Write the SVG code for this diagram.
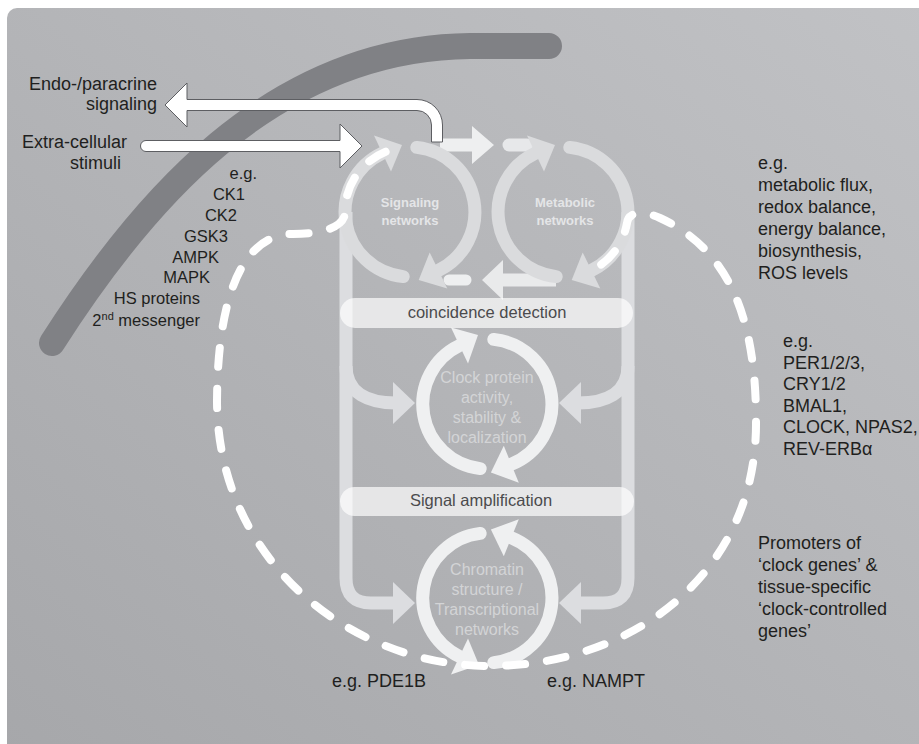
<svg xmlns="http://www.w3.org/2000/svg" width="919" height="744" viewBox="0 0 919 744">
<defs>
<linearGradient id="bgGrad" x1="0" y1="1" x2="1" y2="0">
<stop offset="0" stop-color="#a6a7aa"/>
<stop offset="1" stop-color="#c1c2c5"/>
</linearGradient>
</defs>
<style>
text{font-family:"Liberation Sans",Arial,Helvetica,sans-serif;}
.lbl{font-size:18px;fill:#1f1f20;}
.lst{font-size:16.5px;fill:#1f1f20;text-anchor:end;}
.ringA{fill:none;stroke:#dadbdd;stroke-width:13;stroke-linecap:round;}
.headA{fill:#dadbdd;}
.ringB{fill:none;stroke:#eff0f1;stroke-width:13;stroke-linecap:round;}
.headB{fill:#eff0f1;}
.frame{fill:none;stroke:#dcdde0;stroke-width:13;stroke-linecap:butt;}
.frameHead{fill:#dcdde0;}
.netTxt{font-size:13px;font-weight:bold;fill:#e4e5e7;text-anchor:middle;}
.inTxt{font-size:16px;fill:#d3d4d6;text-anchor:middle;}
.box{fill:#ffffff;fill-opacity:0.68;}
.boxTxt{font-size:16.5px;fill:#4b4b4d;text-anchor:middle;}
.whiteArrow{fill:#ffffff;stroke:#5d5e62;stroke-width:1;stroke-linejoin:miter;}
.light{fill:#eeeff0;}
.dash{fill:none;stroke:#ffffff;stroke-width:8;stroke-linecap:round;stroke-dasharray:19 22;}
</style>

<rect id="background" x="7" y="8" width="930" height="760" rx="10" fill="url(#bgGrad)"/>

<path id="membrane" d="M52,343 C140,205 270,48 470,46 L549,46" fill="none" stroke="#808185" stroke-width="26" stroke-linecap="round"/>

<g id="connectors">
  <path class="frame" d="M346,212 L346,578 Q346,603 371,603 L396,603"/>
  <path class="frame" d="M628,212 L628,578 Q628,603 603,603 L578,603"/>
  <path class="frame" d="M346,366 C346,394 370,403 396,403"/>
  <path class="frame" d="M628,366 C628,394 604,403 578,403"/>
  <polygon class="frameHead" points="415,403 393,382 393,424"/>
  <polygon class="frameHead" points="559,403 581,382 581,424"/>
  <polygon class="frameHead" points="415,603 393,582 393,624"/>
  <polygon class="frameHead" points="559,603 581,582 581,624"/>
  <polygon class="light" points="440,138.5 472,138.5 472,126 494,145 472,164 472,151.5 440,151.5"/>
  <line x1="509" y1="145" x2="527" y2="145" stroke="#e7e8ea" stroke-width="13" stroke-linecap="round"/>
  <line x1="449" y1="280" x2="466" y2="280" stroke="#eeeff0" stroke-width="11" stroke-linecap="round"/>
  <polygon fill="#e9eaeb" points="482,280 503,260 503,273.5 556,273.5 556,286.5 503,286.5 503,300"/>
</g>

<g id="signaling-networks">
  <path class="ringA" d="M403.2,276.6 A65,65 0 0 1 382.5,153.1"/>
  <path class="ringA" d="M416.8,147.4 A65,65 0 0 1 438.5,270.4"/>
  <polygon class="headA" points="402,145 374,135.5 391,171.5"/>
  <polygon class="headA" points="418.7,280 447.3,288.4 429.7,252.4"/>
  <text class="netTxt" x="410" y="207">Signaling</text>
  <text class="netTxt" x="410" y="225">networks</text>
</g>

<g id="metabolic-networks">
  <path class="ringA" d="M556.2,276.6 A65,65 0 0 1 535.5,153.1"/>
  <path class="ringA" d="M569.8,147.4 A65,65 0 0 1 591.5,270.4"/>
  <polygon class="headA" points="555,145 527,135.5 544,171.5"/>
  <polygon class="headA" points="571.7,280 600.3,288.4 582.7,252.4"/>
  <text class="netTxt" x="565" y="207">Metabolic</text>
  <text class="netTxt" x="565" y="225">networks</text>
</g>

<g id="clock-protein">
  <path class="ringB" d="M480.2,468.6 A65,65 0 0 1 459.5,345.5"/>
  <path class="ringB" d="M493.8,339.4 A65,65 0 0 1 511.3,464.3"/>
  <polygon class="headB" points="478,335 451,327.5 468,363.5"/>
  <polygon class="headB" points="490.9,472.5 518.8,482.8 503.8,445.8"/>
  <text class="inTxt" x="487" y="383">Clock protein</text>
  <text class="inTxt" x="487" y="403">activity,</text>
  <text class="inTxt" x="487" y="423">stability &amp;</text>
  <text class="inTxt" x="487" y="443">localization</text>
</g>

<g id="chromatin">
  <path class="ringB" d="M480.2,533.4 A65,65 0 0 0 459.5,656.5"/>
  <path class="ringB" d="M493.8,662.6 A65,65 0 0 0 511.3,537.7"/>
  <polygon class="headB" points="479,665 451,674.5 468,638.5"/>
  <polygon class="headB" points="490.9,529.5 518.8,519.2 503.8,556.2"/>
  <text class="inTxt" x="487" y="575">Chromatin</text>
  <text class="inTxt" x="487" y="595">structure /</text>
  <text class="inTxt" x="487" y="615">Transcriptional</text>
  <text class="inTxt" x="487" y="635">networks</text>
</g>

<g id="coincidence-detection">
  <rect class="box" x="340" y="298" width="293" height="30" rx="15"/>
  <text class="boxTxt" x="487" y="318">coincidence detection</text>
</g>

<g id="signal-amplification">
  <rect class="box" x="340" y="487" width="294" height="29" rx="14.5"/>
  <text class="boxTxt" x="481" y="506">Signal amplification</text>
</g>

<g id="extracellular-arrows">
  <path class="whiteArrow" d="M165,105 L187,83 L187,99.5 L417,99.5 A25.5,25.5 0 0 1 442.5,125 L442.5,142 L431.5,142 L431.5,125 A14.5,14.5 0 0 0 417,110.5 L187,110.5 L187,127 Z"/>
  <path class="whiteArrow" d="M146,140.5 L340,140.5 L340,124 L362,146 L340,168 L340,151.5 L146,151.5 A5.5,5.5 0 0 1 146,140.5 Z"/>
</g>

<g id="feedback-loop">
  <path class="dash" d="M385.6,151.7 A65,65 0 0 0 345,212 C345,226 325,234 293,234 C250,234 218,280 217,400 C217,560 350,666 490,666 C630,666 758,575 756,420 C756,320 730,250 660,218 C642,210 628,212 627,223 A65,65 0 0 1 592.5,269.9"/>
</g>

<g id="labels">
  <text class="lbl" x="157" y="90" text-anchor="end">Endo-/paracrine</text>
  <text class="lbl" x="157" y="110" text-anchor="end">signaling</text>
  <text class="lbl" x="127" y="148" text-anchor="end">Extra-cellular</text>
  <text class="lbl" x="121" y="169" text-anchor="end">stimuli</text>

  <text class="lst" x="257" y="179">e.g.</text>
  <text class="lst" x="245" y="200">CK1</text>
  <text class="lst" x="237" y="221">CK2</text>
  <text class="lst" x="228" y="242">GSK3</text>
  <text class="lst" x="219" y="263">AMPK</text>
  <text class="lst" x="210" y="283">MAPK</text>
  <text class="lst" x="200" y="304">HS proteins</text>
  <text class="lst" x="200" y="326">2<tspan font-size="11" dy="-6">nd</tspan><tspan dy="6"> messenger</tspan></text>

  <text class="lbl" x="758" y="169">e.g.</text>
  <text class="lbl" x="758" y="191">metabolic flux,</text>
  <text class="lbl" x="758" y="213">redox balance,</text>
  <text class="lbl" x="758" y="235">energy balance,</text>
  <text class="lbl" x="758" y="257">biosynthesis,</text>
  <text class="lbl" x="758" y="279">ROS levels</text>

  <text class="lbl" x="783" y="347">e.g.</text>
  <text class="lbl" x="783" y="369">PER1/2/3,</text>
  <text class="lbl" x="783" y="390">CRY1/2</text>
  <text class="lbl" x="783" y="412">BMAL1,</text>
  <text class="lbl" x="783" y="433">CLOCK, NPAS2,</text>
  <text class="lbl" x="783" y="455">REV-ERBα</text>

  <text class="lbl" x="758" y="549">Promoters of</text>
  <text class="lbl" x="758" y="571">‘clock genes’ &amp;</text>
  <text class="lbl" x="758" y="593">tissue-specific</text>
  <text class="lbl" x="758" y="615">‘clock-controlled</text>
  <text class="lbl" x="758" y="637">genes’</text>

  <text class="lbl" x="332" y="687">e.g. PDE1B</text>
  <text class="lbl" x="547" y="687">e.g. NAMPT</text>
</g>
</svg>
